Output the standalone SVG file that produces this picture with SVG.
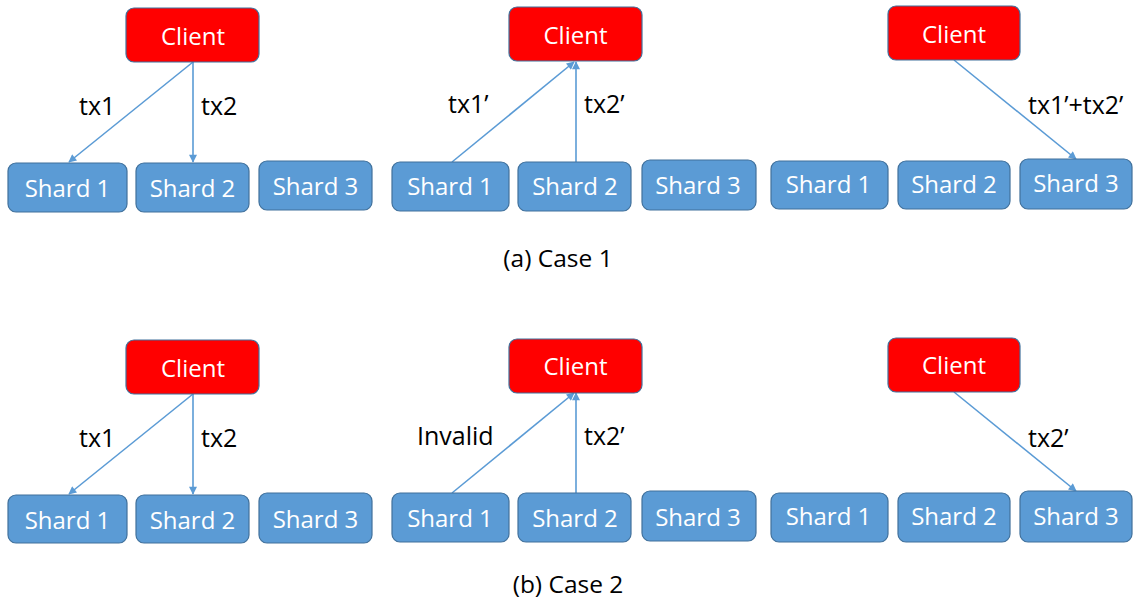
<svg xmlns="http://www.w3.org/2000/svg" width="1133" height="601" viewBox="0 0 1133 601">
<style>
.client{fill:#FF0000;stroke:#41719C;stroke-width:1.2}
.shard{fill:#5B9BD5;stroke:#41719C;stroke-width:1.2}
.nt{font-family:"Open Sans","Liberation Sans",sans-serif;font-size:24px;fill:#FFFFFF;text-anchor:middle}
.lbl{font-family:"Open Sans","Liberation Sans",sans-serif;font-size:25px;fill:#000000}
.cap{font-family:"Open Sans","Liberation Sans",sans-serif;font-size:24.5px;fill:#000000;text-anchor:middle}
.edge{stroke:#5B9BD5;stroke-width:1.6;fill:none;marker-end:url(#ah)}
</style>
<defs>
<marker id="ah" viewBox="0 0 10 10" refX="9" refY="5" markerWidth="9" markerHeight="8" markerUnits="userSpaceOnUse" orient="auto">
<path d="M0,0 L10,5 L0,10 z" fill="#5B9BD5"/>
</marker>
</defs>
<rect width="1133" height="601" fill="#FFFFFF"/>

<g id="connectors">
<line class="edge" x1="193" y1="62" x2="69" y2="162"/>
<line class="edge" x1="193" y1="62" x2="193" y2="162"/>
<line class="edge" x1="452" y1="162" x2="574" y2="62"/>
<line class="edge" x1="576" y1="162" x2="576" y2="62"/>
<line class="edge" x1="954" y1="60" x2="1076" y2="159"/>
<line class="edge" x1="193" y1="394" x2="69" y2="494"/>
<line class="edge" x1="193" y1="394" x2="193" y2="494"/>
<line class="edge" x1="452" y1="493" x2="574" y2="393"/>
<line class="edge" x1="576" y1="493" x2="576" y2="393"/>
<line class="edge" x1="954" y1="392" x2="1076" y2="491"/>
</g>

<g id="labels">
<text class="lbl" x="79" y="115">tx1</text>
<text class="lbl" x="201" y="115">tx2</text>
<text class="lbl" x="448" y="113">tx1’</text>
<text class="lbl" x="584" y="113">tx2’</text>
<text class="lbl" x="1028" y="114">tx1’+tx2’</text>
<text class="lbl" x="79" y="447">tx1</text>
<text class="lbl" x="201" y="447">tx2</text>
<text class="lbl" x="417" y="445">Invalid</text>
<text class="lbl" x="584" y="445">tx2’</text>
<text class="lbl" x="1028" y="447">tx2’</text>
</g>

<g id="a1-client"><rect class="client" x="126" y="8" width="133" height="54" rx="8"/><text class="nt" x="193" y="45">Client</text></g>
<g id="a1-shard1"><rect class="shard" x="8" y="163" width="119" height="49" rx="8"/><text class="nt" x="67.5" y="197">Shard 1</text></g>
<g id="a1-shard2"><rect class="shard" x="136" y="163" width="113" height="49" rx="8"/><text class="nt" x="192.5" y="197">Shard 2</text></g>
<g id="a1-shard3"><rect class="shard" x="259" y="161" width="113" height="49" rx="8"/><text class="nt" x="315.5" y="195">Shard 3</text></g>

<g id="a2-client"><rect class="client" x="509" y="7" width="133" height="54" rx="8"/><text class="nt" x="575.5" y="44">Client</text></g>
<g id="a2-shard1"><rect class="shard" x="392" y="162" width="117" height="49" rx="8"/><text class="nt" x="450" y="195">Shard 1</text></g>
<g id="a2-shard2"><rect class="shard" x="518" y="162" width="113" height="49" rx="8"/><text class="nt" x="575" y="195">Shard 2</text></g>
<g id="a2-shard3"><rect class="shard" x="642" y="160" width="114" height="50" rx="8"/><text class="nt" x="698" y="194">Shard 3</text></g>

<g id="a3-client"><rect class="client" x="888" y="6" width="132" height="54" rx="8"/><text class="nt" x="954" y="43">Client</text></g>
<g id="a3-shard1"><rect class="shard" x="771" y="161" width="117" height="48" rx="8"/><text class="nt" x="828.5" y="193">Shard 1</text></g>
<g id="a3-shard2"><rect class="shard" x="898" y="161" width="112" height="48" rx="8"/><text class="nt" x="954" y="193">Shard 2</text></g>
<g id="a3-shard3"><rect class="shard" x="1020" y="159" width="112" height="50" rx="8"/><text class="nt" x="1076" y="192">Shard 3</text></g>

<g id="b1-client"><rect class="client" x="126" y="340" width="133" height="54" rx="8"/><text class="nt" x="193" y="377">Client</text></g>
<g id="b1-shard1"><rect class="shard" x="8" y="495" width="119" height="48" rx="8"/><text class="nt" x="67.5" y="529">Shard 1</text></g>
<g id="b1-shard2"><rect class="shard" x="136" y="495" width="113" height="48" rx="8"/><text class="nt" x="192.5" y="529">Shard 2</text></g>
<g id="b1-shard3"><rect class="shard" x="259" y="493" width="113" height="50" rx="8"/><text class="nt" x="315.5" y="528">Shard 3</text></g>

<g id="b2-client"><rect class="client" x="509" y="339" width="133" height="54" rx="8"/><text class="nt" x="575.5" y="375">Client</text></g>
<g id="b2-shard1"><rect class="shard" x="392" y="493" width="117" height="49" rx="8"/><text class="nt" x="450" y="527">Shard 1</text></g>
<g id="b2-shard2"><rect class="shard" x="518" y="493" width="113" height="49" rx="8"/><text class="nt" x="575" y="527">Shard 2</text></g>
<g id="b2-shard3"><rect class="shard" x="642" y="491" width="114" height="50" rx="8"/><text class="nt" x="698" y="526">Shard 3</text></g>

<g id="b3-client"><rect class="client" x="888" y="338" width="132" height="54" rx="8"/><text class="nt" x="954" y="374">Client</text></g>
<g id="b3-shard1"><rect class="shard" x="771" y="493" width="117" height="49" rx="8"/><text class="nt" x="828.5" y="525">Shard 1</text></g>
<g id="b3-shard2"><rect class="shard" x="898" y="493" width="112" height="49" rx="8"/><text class="nt" x="954" y="525">Shard 2</text></g>
<g id="b3-shard3"><rect class="shard" x="1020" y="491" width="112" height="51" rx="8"/><text class="nt" x="1076" y="525">Shard 3</text></g>

<g id="captions">
<text class="cap" x="558" y="267">(a) Case 1</text>
<text class="cap" x="568" y="593">(b) Case 2</text>
</g>
</svg>
